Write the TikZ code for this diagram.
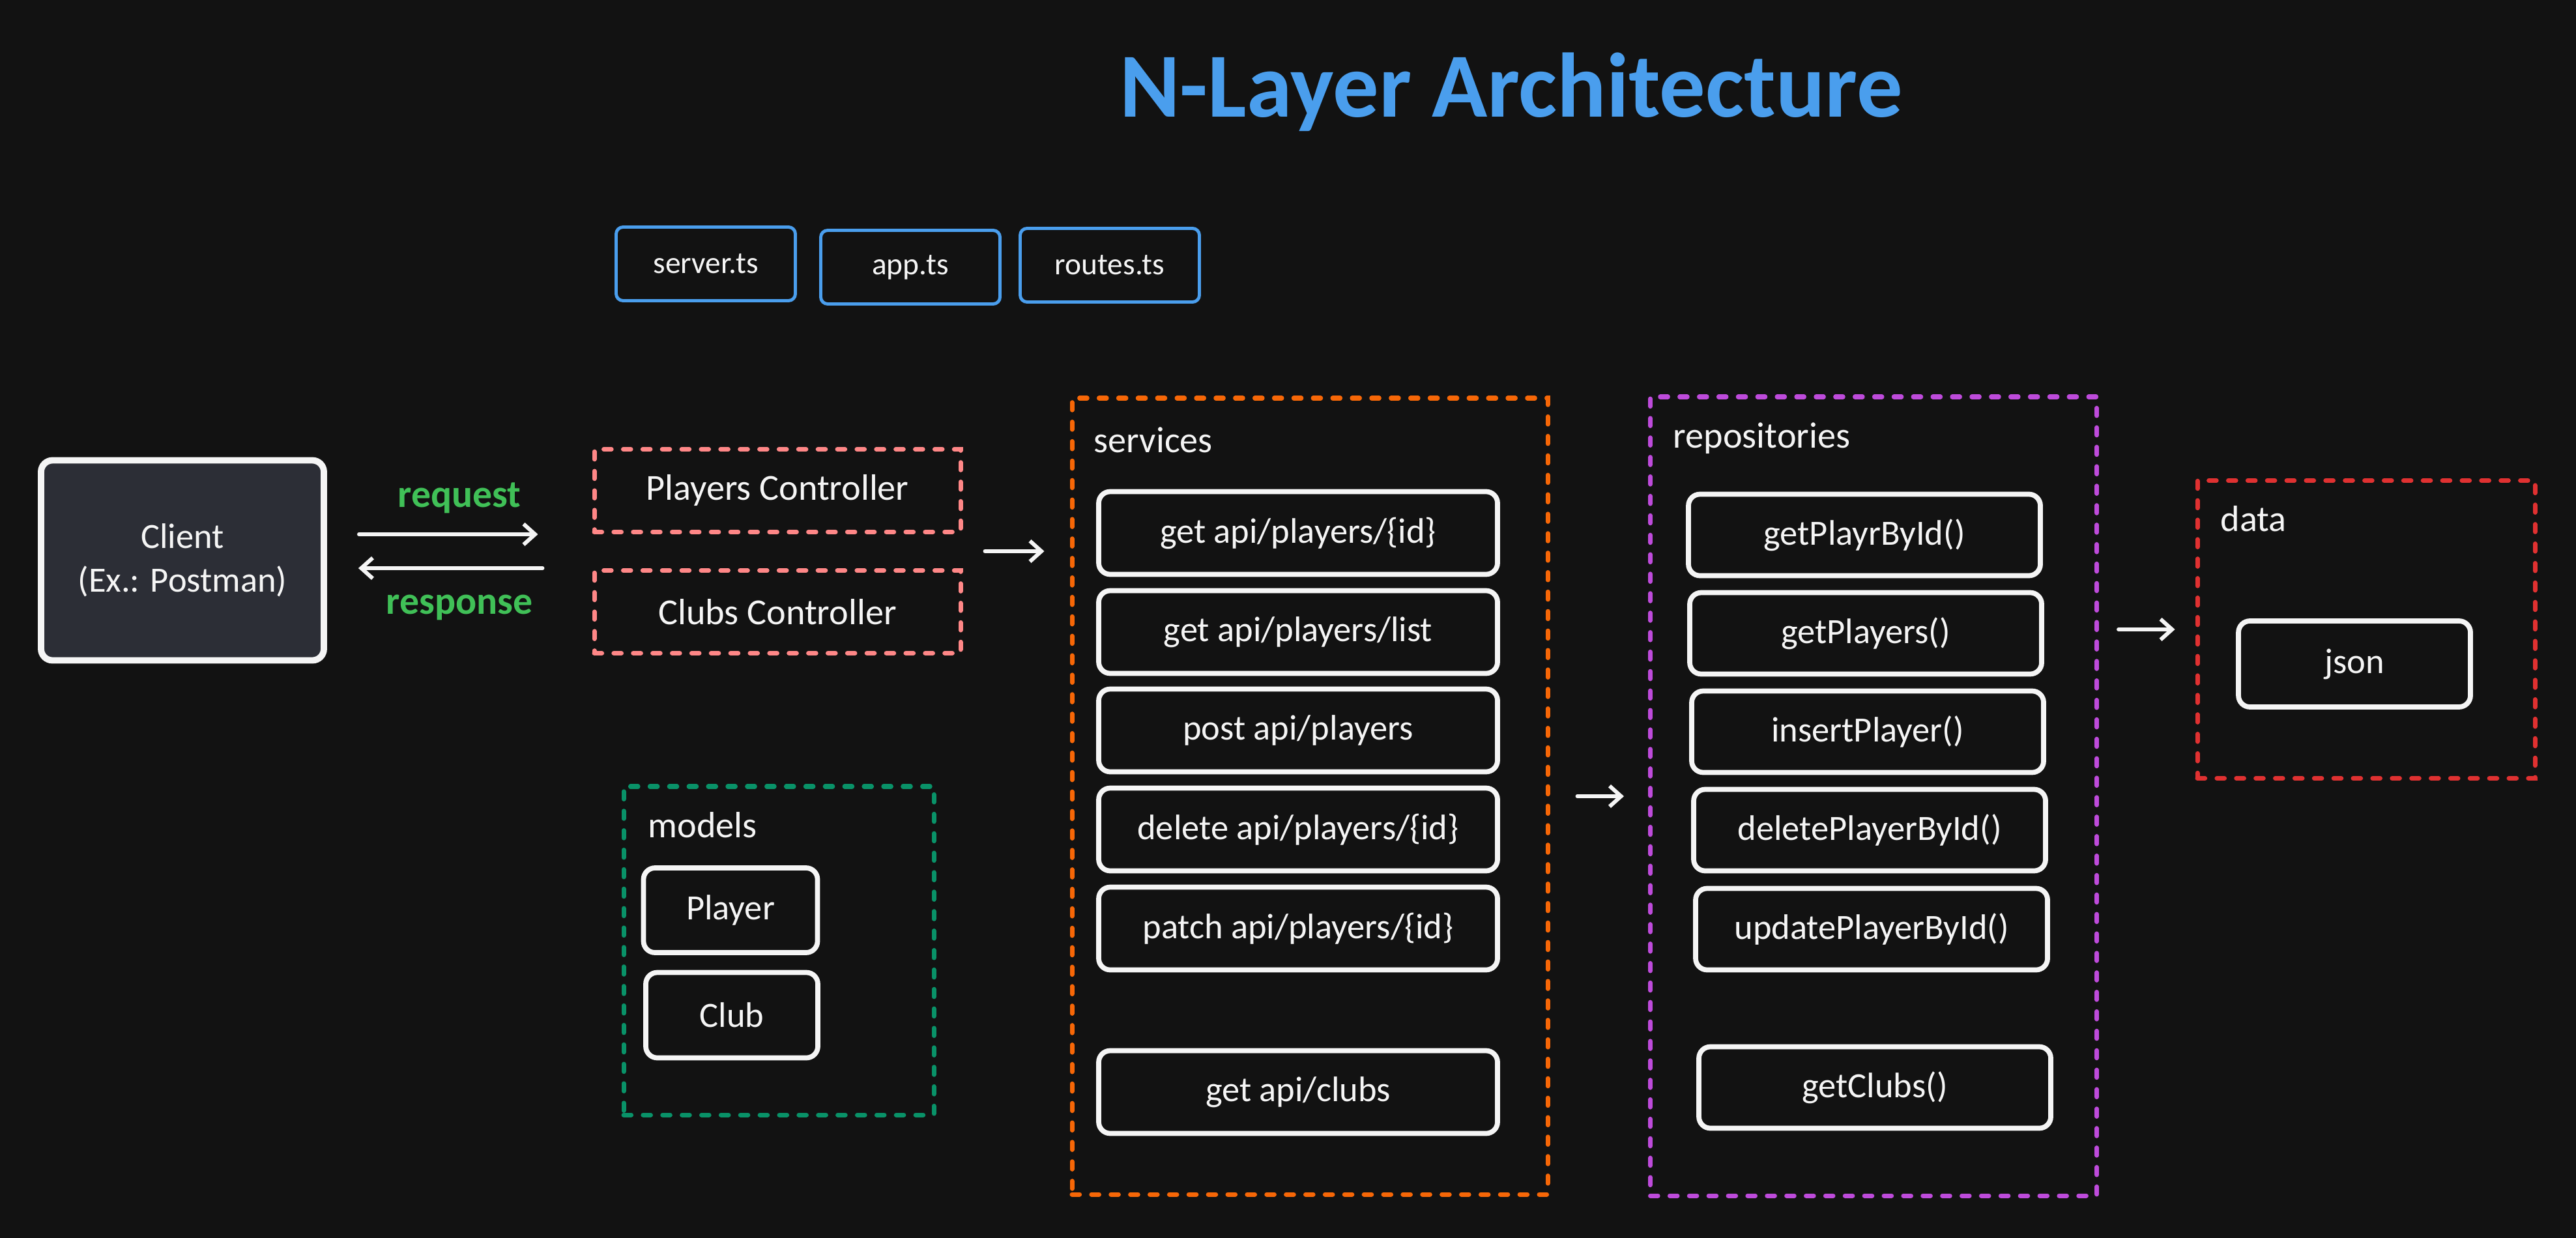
\documentclass[tikz,border=0pt]{standalone}
\usepackage{fontspec}
\setmainfont{Carlito}
\usepackage{tikz}
\usetikzlibrary{arrows.meta,calc}
\definecolor{bg}{HTML}{121212}
\definecolor{ink}{HTML}{F5F5F5}
\definecolor{clientfill}{HTML}{2C2E36}
\definecolor{fileblue}{HTML}{4A9EED}
\definecolor{ctrlred}{HTML}{FF8787}
\definecolor{srvorange}{HTML}{F76707}
\definecolor{repopurple}{HTML}{BE4BDB}
\definecolor{datared}{HTML}{E03131}
\definecolor{modelgreen}{HTML}{099268}
\definecolor{msggreen}{HTML}{40C057}
\tikzstyle{cell}=[shape=rectangle,draw=ink,line width=2.2pt,rounded corners=5pt,fill=bg,text=ink,font=\fontsize{15.5pt}{19pt}\selectfont]
\tikzstyle{file}=[shape=rectangle,draw=fileblue,line width=1.4pt,rounded corners=3pt,minimum width=2.75cm,minimum height=1.13cm,text=ink,font=\fontsize{13.5pt}{16pt}\selectfont]
\tikzstyle{layer}=[shape=rectangle,line width=2pt,dash pattern=on 3.3pt off 5.2pt,line cap=round,text=ink,font=\fontsize{16pt}{19pt}\selectfont]
\tikzstyle{lbl}=[anchor=base west,inner sep=0pt,text=ink,font=\fontsize{16pt}{19pt}\selectfont]
\tikzstyle{msg}=[inner sep=0pt,text=msggreen,font=\bfseries\fontsize{17pt}{20pt}\selectfont]
\tikzstyle{flow}=[-{Straight Barb[length=5pt,width=9pt]},line width=1.7pt,draw=ink,line cap=round,line join=round]

\begin{document}
\begin{tikzpicture}
            \fill[bg] (0, 0) rectangle (39.53, -19);
            \useasboundingbox (0, 0) rectangle (39.53, -19);
            \node[anchor=base, text=fileblue, font=\bfseries\fontsize{40pt}{46pt}\selectfont] (T) at (23.19, -1.80) {N-Layer Architecture}
            ;
            \node[file] (Server) at (10.83, -4.05) {server.ts}
            ;
            \node[file] (App) at (13.97, -4.10) {app.ts}
            ;
            \node[file] (Routes) at (17.03, -4.07) {routes.ts}
            ;
            \node[cell, line width=2.8pt, fill=clientfill, minimum width=4.34cm, minimum height=3.07cm, align=center] (Client) at (2.80, -8.60) {Client\\(Ex.: Postman)}
            ;
            \node[layer, draw=ctrlred, minimum width=5.62cm, minimum height=1.27cm] (Players) at (11.93, -7.53) {Players Controller}
            ;
            \node[layer, draw=ctrlred, minimum width=5.62cm, minimum height=1.27cm] (Clubs) at (11.93, -9.39) {Clubs Controller}
            ;
            % models
            \node[layer, draw=modelgreen, minimum width=4.76cm, minimum height=5.04cm] (Models) at (11.95, -14.59) {}
            ;
            \node[lbl] (ModelsL) at (9.94, -12.85) {models}
            ;
            \node[cell, minimum width=2.67cm, minimum height=1.30cm] (Player) at (11.21, -13.97) {Player}
            ;
            \node[cell, minimum width=2.64cm, minimum height=1.31cm] (Club) at (11.23, -15.58) {Club}
            ;
            % services
            \node[layer, draw=srvorange, minimum width=7.30cm, minimum height=12.22cm] (Srv) at (20.10, -12.22) {}
            ;
            \node[lbl] (SrvL) at (16.78, -6.94) {services}
            ;
            \node[cell, minimum width=6.12cm, minimum height=1.27cm] (S1) at (19.92, -8.18) {get api/players/\{id\}}
            ;
            \node[cell, minimum width=6.12cm, minimum height=1.27cm] (S2) at (19.92, -9.70) {get api/players/list}
            ;
            \node[cell, minimum width=6.12cm, minimum height=1.27cm] (S3) at (19.92, -11.21) {post api/players}
            ;
            \node[cell, minimum width=6.12cm, minimum height=1.27cm] (S4) at (19.92, -12.73) {delete api/players/\{id\}}
            ;
            \node[cell, minimum width=6.12cm, minimum height=1.27cm] (S5) at (19.92, -14.25) {patch api/players/\{id\}}
            ;
            \node[cell, minimum width=6.12cm, minimum height=1.27cm] (S6) at (19.92, -16.76) {get api/clubs}
            ;
            % repositories
            \node[layer, draw=repopurple, minimum width=6.85cm, minimum height=12.26cm] (Repo) at (28.75, -12.22) {}
            ;
            \node[lbl] (RepoL) at (25.67, -6.87) {repositories}
            ;
            \node[cell, minimum width=5.40cm, minimum height=1.25cm] (R1) at (28.61, -8.21) {getPlayrById()}
            ;
            \node[cell, minimum width=5.40cm, minimum height=1.25cm] (R2) at (28.63, -9.72) {getPlayers()}
            ;
            \node[cell, minimum width=5.40cm, minimum height=1.25cm] (R3) at (28.66, -11.23) {insertPlayer()}
            ;
            \node[cell, minimum width=5.40cm, minimum height=1.25cm] (R4) at (28.69, -12.74) {deletePlayerById()}
            ;
            \node[cell, minimum width=5.40cm, minimum height=1.25cm] (R5) at (28.72, -14.26) {updatePlayerById()}
            ;
            \node[cell, minimum width=5.40cm, minimum height=1.25cm] (R6) at (28.77, -16.69) {getClubs()}
            ;
            % data
            \node[layer, draw=datared, minimum width=5.18cm, minimum height=4.57cm] (Data) at (36.31, -9.66) {}
            ;
            \node[lbl] (DataL) at (34.07, -8.15) {data}
            ;
            \node[cell, minimum width=3.56cm, minimum height=1.32cm] (Json) at (36.13, -10.19) {json}
            ;
            % connectors
            \coordinate (Ctrl) at ($(Players.south east)!.5!(Clubs.north east)$);
            \draw[flow, shorten <=0.49cm, shorten >=0.83cm] (Client.east |- Players.south) -- (Players.south west)
                node[msg, midway, above=0.29cm] {request}
            ;
            \draw[flow, shorten <=0.76cm, shorten >=0.48cm] (Clubs.north west) -- (Client.east |- Clubs.north)
                node[msg, midway, below=0.38cm] {response}
            ;
            \draw[flow, shorten <=0.34cm, shorten >=0.39cm] (Ctrl) -- (Ctrl -| Srv.west)
            ;
            \draw[flow, shorten <=0.42cm, shorten >=0.37cm] (Srv.east) -- (Repo.west)
            ;
            \draw[flow, shorten <=0.30cm, shorten >=0.31cm] (Data.west -| Repo.east) -- (Data.west)
            ;
        \end{tikzpicture}
\end{document}
